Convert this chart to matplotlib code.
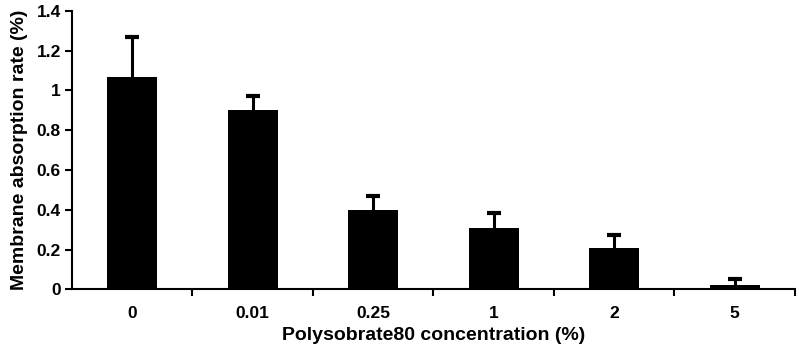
import matplotlib
matplotlib.use("Agg")
import matplotlib.pyplot as plt
import numpy as np

plt.rcParams['font.family'] = ['Liberation Sans', 'DejaVu Sans']
plt.rcParams['font.weight'] = 'bold'

concentraciones = ['0', '0.01', '0.25', '1', '2', '5']
absorcion = [1.07, 0.90, 0.40, 0.31, 0.21, 0.02]
error_sup = [0.20, 0.07, 0.07, 0.075, 0.065, 0.03]

fig = plt.figure(figsize=(7.99, 3.52), dpi=100)
ax = fig.add_axes([0.090, 0.178, 0.905, 0.791])

x = np.arange(len(concentraciones))
ax.bar(x, absorcion, width=0.415, color='black', zorder=2)
_, caps, _ = ax.errorbar(x, absorcion, yerr=[np.zeros(len(x)), error_sup], fmt='none',
                         ecolor='black', elinewidth=2.2, capsize=5, capthick=3, zorder=1)
caps[0].set_visible(False)  # solo la tapa superior

ax.set_xlim(-0.5, len(x) - 0.5)
ax.set_ylim(0, 1.4)
ax.set_yticks([0, 0.2, 0.4, 0.6, 0.8, 1.0, 1.2, 1.4])
ax.set_yticklabels(['0', '0.2', '0.4', '0.6', '0.8', '1', '1.2', '1.4'])
ax.set_xticks(x)
ax.set_xticklabels(concentraciones)
ax.tick_params(axis='x', length=0, pad=12, labelsize=12.5)
ax.set_xticks(np.arange(len(x)) + 0.5, minor=True)
ax.tick_params(axis='x', which='minor', length=5, width=1.5, direction='out')
ax.tick_params(axis='y', length=5, width=1.5, direction='out', labelsize=12.5, pad=3)

for s in ['top', 'right']:
    ax.spines[s].set_visible(False)
for s in ['left', 'bottom']:
    ax.spines[s].set_linewidth(1.5)

ax.set_xlabel('Polysobrate80 concentration (%)', fontsize=14, fontweight='bold', labelpad=4)
ax.set_ylabel('Membrane absorption rate (%)', fontsize=14, fontweight='bold', labelpad=6)

fig.savefig('out.png', dpi=100)
